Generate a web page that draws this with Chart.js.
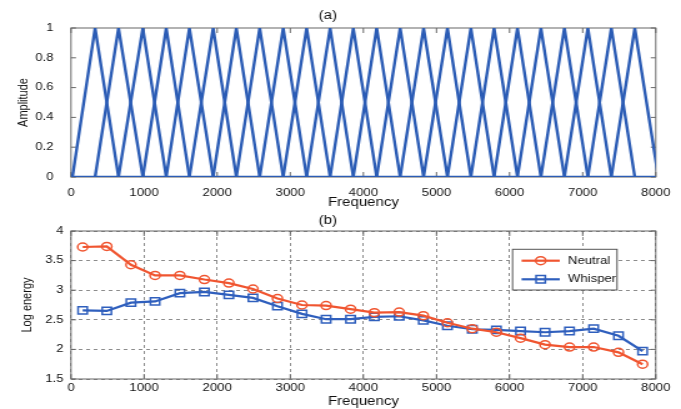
<!DOCTYPE html>
<html>
<head>
<meta charset="utf-8">
<script src="https://cdn.jsdelivr.net/npm/chart.js@4.4.1/dist/chart.umd.min.js"></script>
<style>
  body { margin: 0; background: #fff; }
  canvas { display: block; }
</style>
</head>
<body>
<!-- the figure is horizontally stretched, so the canvases are drawn narrow and widened by css -->
<canvas id="filterChart" width="545" height="210" style="width:681px;height:210px"></canvas>
<canvas id="energyChart" width="545" height="199" style="width:681px;height:199px"></canvas>
<script>
// (a) triangular filter bank: edge frequencies
const filterEdges = [20, 330, 650, 983, 1303, 1620, 1945, 2262, 2582, 2903, 3224, 3545, 3862,
                     4182, 4503, 4824, 5150, 5471, 5788, 6108, 6429, 6750, 7071, 7392, 7713, 8035];
const filterShape = [0, 1, 0];

// (b) log energy per band
const bandFreqs = [160, 490, 820, 1150, 1490, 1825, 2160, 2490, 2825, 3160, 3490, 3825,
                   4150, 4490, 4820, 5150, 5490, 5820, 6150, 6485, 6820, 7150, 7490, 7820];
const neutral = [3.73, 3.74, 3.43, 3.25, 3.25, 3.18, 3.12, 3.02, 2.86, 2.75, 2.74, 2.68,
                 2.62, 2.63, 2.57, 2.45, 2.35, 2.29, 2.19, 2.08, 2.04, 2.04, 1.95, 1.75];
const whisper = [2.66, 2.65, 2.79, 2.81, 2.95, 2.97, 2.92, 2.87, 2.73, 2.60, 2.51, 2.51,
                 2.55, 2.56, 2.49, 2.40, 2.34, 2.33, 2.31, 2.29, 2.31, 2.35, 2.23, 1.97];
const seriesNames = ['Neutral', 'Whisper'];

Chart.defaults.font.family = '"Liberation Sans", Arial, Helvetica, sans-serif';
Chart.defaults.color = '#111';

const textColor = '#111';
const plotLeft = 56.8;   // internal px (681px shown / 1.25)
const padRight = 20.2;

// matlab-like axes box with inward ticks
const boxPlugin = {
  id: 'matlabBox',
  beforeDatasetsDraw(chart) {
    const { ctx, chartArea: a, scales: { x, y } } = chart;
    ctx.save();
    ctx.strokeStyle = '#666';
    ctx.lineWidth = 1;
    ctx.setLineDash([]);
    ctx.beginPath();
    x.ticks.forEach(t => {
      const px = x.getPixelForValue(t.value);
      ctx.moveTo(px, a.bottom); ctx.lineTo(px, a.bottom - 5);
      ctx.moveTo(px, a.top); ctx.lineTo(px, a.top + 5);
    });
    y.ticks.forEach(t => {
      const py = y.getPixelForValue(t.value);
      ctx.moveTo(a.left, py); ctx.lineTo(a.left + 4, py);
      ctx.moveTo(a.right, py); ctx.lineTo(a.right - 4, py);
    });
    ctx.stroke();
    ctx.strokeRect(a.left, a.top, a.width, a.height);
    ctx.restore();
  }
};

// legend inside the plot, line sample with marker
const legendPlugin = {
  id: 'boxLegend',
  afterDraw(chart) {
    const { ctx, chartArea: a } = chart;
    const w = 83.6, h = 40.7;
    const left = a.right - 114.6, top = a.top + 18.3;
    ctx.save();
    ctx.fillStyle = '#fff';
    ctx.fillRect(left, top, w, h);
    ctx.strokeStyle = '#555';
    ctx.lineWidth = 1;
    ctx.strokeRect(left, top, w, h);
    chart.data.datasets.forEach((ds, i) => {
      const yy = top + 11.4 + i * 18.6;
      ctx.strokeStyle = ds.borderColor;
      ctx.lineWidth = ds.borderWidth;
      ctx.beginPath();
      ctx.moveTo(left + 7.2, yy);
      ctx.lineTo(left + 37.8, yy);
      ctx.stroke();
      ctx.fillStyle = 'rgba(0,0,0,0)';
      ctx.lineWidth = ds.pointBorderWidth;
      Chart.helpers.drawPoint(ctx, {
        pointStyle: ds.pointStyle,
        radius: ds.pointRadius,
        borderWidth: ds.pointBorderWidth,
        rotation: 0
      }, left + 22.5, yy);
      ctx.fillStyle = textColor;
      ctx.font = '10.5px "Liberation Sans", Arial, sans-serif';
      ctx.textBaseline = 'middle';
      ctx.textAlign = 'left';
      ctx.fillText(ds.label, left + 44.4, yy);
    });
    ctx.restore();
  }
};

function xScale(opts) {
  return {
    type: 'linear',
    min: 0,
    max: 8000,
    afterFit: s => { s.height = opts.height; },
    grid: opts.grid,
    border: { display: false, dash: [3, 3] },
    ticks: {
      stepSize: 1000,
      padding: opts.tickPad,
      color: textColor,
      font: { size: 10.5 },
      maxRotation: 0,
      callback: v => String(v)
    },
    title: {
      display: true,
      text: 'Frequency',
      color: textColor,
      font: { size: 12 },
      padding: { top: 0, bottom: opts.titlePad }
    }
  };
}

function yScale(opts) {
  return {
    min: opts.min,
    max: opts.max,
    afterFit: s => { s.width = plotLeft; },
    grid: opts.grid,
    border: { display: false, dash: [3, 3] },
    ticks: {
      stepSize: opts.step,
      padding: 6,
      color: textColor,
      font: { size: 10.5 },
      callback: v => String(Math.round(v * 100) / 100)
    },
    title: {
      display: true,
      text: opts.title,
      color: textColor,
      font: { size: 11 },
      padding: { top: opts.titlePad, bottom: 0 }
    }
  };
}

const filterBlue = '#2b5cb5';
const filterSets = filterEdges.slice(0, -2).map((e, k) => ({
  data: filterShape.map((v, j) => ({ x: filterEdges[k + j], y: v })),
  borderColor: filterBlue,
  borderWidth: 2.4,
  pointRadius: 0
}));
filterSets.push({
  data: [{ x: 0, y: 0 }, { x: 8000, y: 0 }],
  borderColor: filterBlue,
  borderWidth: 2.4,
  pointRadius: 0
});

new Chart(document.getElementById('filterChart'), {
  type: 'line',
  data: { datasets: filterSets },
  options: {
    responsive: false,
    animation: false,
    devicePixelRatio: 1,
    layout: { padding: { left: 0, right: padRight, top: 0, bottom: 0 } },
    plugins: {
      legend: { display: false },
      tooltip: { enabled: false },
      title: {
        display: true,
        text: '(a)',
        color: textColor,
        font: { size: 12, weight: 'normal' },
        padding: { top: 8.6, bottom: 5 }
      }
    },
    scales: {
      x: xScale({ height: 33, tickPad: 2, titlePad: 0.5, grid: { display: false } }),
      y: yScale({ min: 0, max: 1, step: 0.2, title: 'Amplitude', titlePad: 12.6, grid: { display: false } })
    }
  },
  plugins: [boxPlugin]
});

const dashGrid = { display: true, color: '#8c8c8c', lineWidth: 1, drawTicks: false };

new Chart(document.getElementById('energyChart'), {
  type: 'line',
  data: {
    labels: bandFreqs,
    datasets: [
      {
        label: seriesNames[0],
        data: bandFreqs.map((f, i) => ({ x: f, y: neutral[i] })),
        borderColor: '#f05530',
        borderWidth: 2.2,
        pointStyle: 'circle',
        pointRadius: 4,
        pointBorderWidth: 1.5,
        pointBorderColor: '#f05530',
        pointBackgroundColor: 'rgba(0,0,0,0)'
      },
      {
        label: seriesNames[1],
        data: bandFreqs.map((f, i) => ({ x: f, y: whisper[i] })),
        borderColor: '#2f5fbd',
        borderWidth: 2.2,
        pointStyle: 'rect',
        pointRadius: 5.2,
        pointBorderWidth: 1.5,
        pointBorderColor: '#2f5fbd',
        pointBackgroundColor: 'rgba(0,0,0,0)'
      }
    ]
  },
  options: {
    responsive: false,
    animation: false,
    devicePixelRatio: 1,
    layout: { padding: { left: 0, right: padRight, top: 0, bottom: 0 } },
    plugins: {
      legend: { display: false },
      tooltip: { enabled: false },
      title: {
        display: true,
        text: '(b)',
        color: textColor,
        font: { size: 12, weight: 'normal' },
        padding: { top: 3.5, bottom: 3.1 }
      }
    },
    scales: {
      x: xScale({ height: 30, tickPad: 3, titlePad: 0, grid: dashGrid }),
      y: yScale({ min: 1.5, max: 4, step: 0.5, title: 'Log energy', titlePad: 15.8, grid: dashGrid })
    }
  },
  plugins: [boxPlugin, legendPlugin]
});
</script>
</body>
</html>
